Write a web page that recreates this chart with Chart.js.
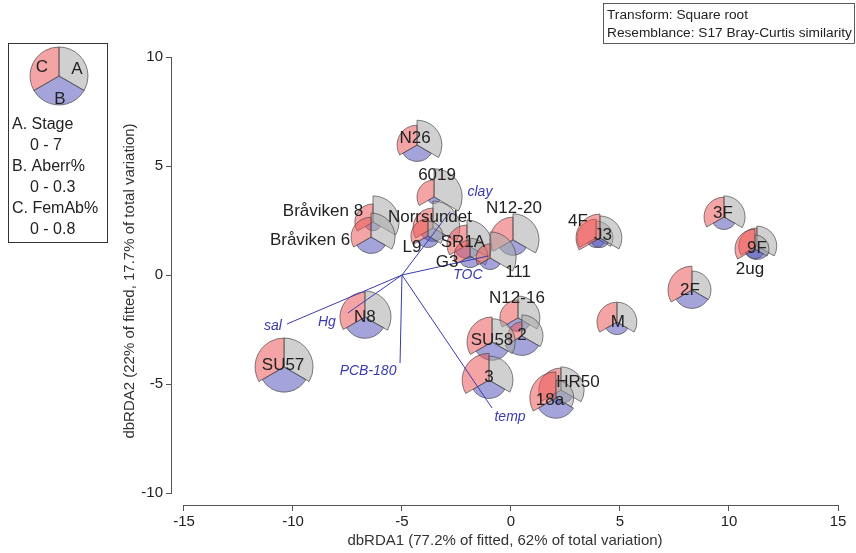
<!DOCTYPE html>
<html lang="en">
<head>
  <meta charset="UTF-8">
  <title>dbRDA segmented bubble plot</title>
  <script src="https://cdn.jsdelivr.net/npm/chart.js"></script>
  <style>
    body {
      margin: 0;
      background: #fff;
    }
    canvas {
      display: block;
    }
  </style>
</head>
<body>

  <canvas id="dbrda" width="856" height="553"></canvas>

  <script>
    // samples and their dbRDA coordinates
    const samples = ['N26', '6019', 'Bråviken 8', 'Bråviken 6', 'Norrsundet', 'L9', 'SR1A', 'G3',
      'N12-20', '111', '4F', 'J3', '3F', '9F', '2ug', '2F', 'M', 'N8', 'SU57', 'N12-16', '2',
      'SU58', '3', 'HR50', '18a'];
    const dbRDA1 = [-4.31, -3.53, -6.33, -6.42, -3.58, -3.81, -2.02, -1.88, 0.09, -0.96, 3.90, 4.08,
      9.77, 11.28, 11.19, 8.30, 4.86, -6.70, -10.41, 0.32, 0.50, -0.87, -1.01, 2.29, 2.06];
    const dbRDA2 = [5.96, 3.58, 2.43, 1.74, 2.16, 1.79, 1.38, 0.87, 1.61, 0.78, 1.70, 1.70,
      2.66, 1.33, 1.19, -0.69, -2.16, -1.93, -4.22, -1.97, -2.80, -3.07, -4.82, -5.28, -5.64];

    // bubble variables
    const stage = [6.0, 6.8, 6.3, 5.8, 6.5, 3.6, 6.0, 4.3, 6.3, 6.3, 4.1, 5.3, 5.1, 4.8, 3.4, 4.6,
      4.8, 6.3, 7.0, 5.3, 5.1, 5.6, 5.8, 5.6, 4.3];
    const aberr = [0.17, 0.07, 0.09, 0.17, 0.14, 0.12, 0.14, 0.12, 0.16, 0.12, 0.10, 0.10, 0.13,
      0.14, 0.10, 0.19, 0.13, 0.22, 0.26, 0.14, 0.20, 0.19, 0.19, 0.14, 0.21];
    const femAb = [0.55, 0.47, 0.50, 0.55, 0.55, 0.47, 0.55, 0.44, 0.63, 0.39, 0.52, 0.66, 0.55,
      0.50, 0.55, 0.66, 0.55, 0.69, 0.80, 0.50, 0.39, 0.69, 0.74, 0.61, 0.72];
    const stageMax = 7;
    const aberrMax = 0.3;
    const femAbMax = 0.8;

    // environmental vectors (from a common origin)
    const vecOrigin = [-5.0, 0.0];
    const vecNames = ['sal', 'Hg', 'PCB-180', 'temp', 'TOC', 'clay'];
    const vecX = [-10.28, -7.48, -5.09, -0.87, -1.06, -2.8];
    const vecY = [-2.25, -1.74, -4.04, -6.1, 0.87, 2.9];

    const xTicks = [-15, -10, -5, 0, 5, 10, 15];
    const yTicks = [-10, -5, 0, 5, 10];

    // label nudges in px (label centre minus bubble centre)
    const labelShift = {
      'N26': [-2, -7], '6019': [3, -22], 'Bråviken 8': [-50, -11], 'Bråviken 6': [-61, 3],
      'Norrsundet': [-3, -11], 'L9': [-16, 11], 'SR1A': [-4, -3], 'G3': [-23, 6],
      'N12-20': [1, -32], '111': [28, 14], '4F': [-18, -17], 'J3': [3, -3], '3F': [-1, -4],
      '9F': [0, 2], '2ug': [-5, 20], '2F': [-2, 0], 'M': [1, 0], 'N8': [0, 0], 'SU57': [-1, -2],
      'N12-16': [-1, -20], '2': [0, -1], 'SU58': [0, -2], '3': [0, -3], 'HR50': [17, -8], '18a': [-6, 2]
    };
    const vecLabelShift = [[-14, 2], [-21, 9], [-32, 8], [18, 9], [-20, 19], [30, -20]];

    const R = 29;
    const colA = 'rgba(170,170,170,0.55)';
    const colB = 'rgba(90,90,190,0.55)';
    const colC = 'rgba(235,90,90,0.55)';
    const vecCol = '#3a3aae';

    function wedge(ctx, cx, cy, r, a0, a1, fill) {
      if (r <= 0) return;
      ctx.beginPath();
      ctx.moveTo(cx, cy);
      ctx.arc(cx, cy, r, a0, a1);
      ctx.closePath();
      ctx.fillStyle = fill;
      ctx.fill();
      ctx.stroke();
    }

    function bubble(ctx, cx, cy, rA, rB, rC) {
      ctx.strokeStyle = 'rgba(70,70,70,0.85)';
      ctx.lineWidth = 0.8;
      wedge(ctx, cx, cy, rA, -Math.PI / 2, Math.PI / 6, colA);
      wedge(ctx, cx, cy, rB, Math.PI / 6, 5 * Math.PI / 6, colB);
      wedge(ctx, cx, cy, rC, 5 * Math.PI / 6, 3 * Math.PI / 2, colC);
    }

    const overlay = {
      id: 'overlay',
      afterDatasetsDraw(chart) {
        const ctx = chart.ctx;
        const xs = chart.scales.x, ys = chart.scales.y;
        ctx.save();

        // range-frame axis lines
        ctx.strokeStyle = '#555';
        ctx.lineWidth = 1;
        ctx.beginPath();
        ctx.moveTo(xs.getPixelForValue(xTicks[0]), chart.chartArea.bottom + 0.5);
        ctx.lineTo(xs.getPixelForValue(xTicks[xTicks.length - 1]), chart.chartArea.bottom + 0.5);
        ctx.moveTo(chart.chartArea.left - 0.5, ys.getPixelForValue(yTicks[0]));
        ctx.lineTo(chart.chartArea.left - 0.5, ys.getPixelForValue(yTicks[yTicks.length - 1]));
        ctx.stroke();

        // bubbles
        samples.forEach((s, i) => {
          const cx = xs.getPixelForValue(dbRDA1[i]);
          const cy = ys.getPixelForValue(dbRDA2[i]);
          bubble(ctx, cx, cy, R * stage[i] / stageMax, R * aberr[i] / aberrMax, R * femAb[i] / femAbMax);
        });

        // vectors
        const ox = xs.getPixelForValue(vecOrigin[0]);
        const oy = ys.getPixelForValue(vecOrigin[1]);
        ctx.strokeStyle = vecCol;
        ctx.lineWidth = 1;
        vecNames.forEach((v, i) => {
          ctx.beginPath();
          ctx.moveTo(ox, oy);
          ctx.lineTo(xs.getPixelForValue(vecX[i]), ys.getPixelForValue(vecY[i]));
          ctx.stroke();
        });
        ctx.fillStyle = vecCol;
        ctx.font = 'italic 14px "Liberation Sans", Arial, sans-serif';
        ctx.textAlign = 'center';
        ctx.textBaseline = 'middle';
        vecNames.forEach((v, i) => {
          ctx.fillText(v, xs.getPixelForValue(vecX[i]) + vecLabelShift[i][0],
            ys.getPixelForValue(vecY[i]) + vecLabelShift[i][1]);
        });

        // sample labels
        ctx.fillStyle = '#222';
        ctx.font = '17px "Liberation Sans", Arial, sans-serif';
        samples.forEach((s, i) => {
          const sh = labelShift[s] || [0, 0];
          ctx.fillText(s, xs.getPixelForValue(dbRDA1[i]) + sh[0], ys.getPixelForValue(dbRDA2[i]) + sh[1]);
        });

        // key box on the left
        ctx.strokeStyle = '#333';
        ctx.lineWidth = 1;
        ctx.strokeRect(8.5, 43.5, 99, 199);
        bubble(ctx, 59, 76, R, R, R);
        ctx.fillStyle = '#222';
        ctx.font = '17px "Liberation Sans", Arial, sans-serif';
        ctx.fillText('C', 42, 67);
        ctx.fillText('A', 77, 69);
        ctx.fillText('B', 60, 99);
        ctx.textAlign = 'left';
        ctx.font = '16px "Liberation Sans", Arial, sans-serif';
        const keyLines = [['A. Stage', 12], ['0 - ' + stageMax, 30], ['B. Aberr%', 12],
          ['0 - ' + aberrMax, 30], ['C. FemAb%', 12], ['0 - ' + femAbMax, 30]];
        keyLines.forEach((k, i) => ctx.fillText(k[0], k[1], 125 + i * 21));

        // transform box top right
        ctx.strokeStyle = '#333';
        ctx.strokeRect(603.5, 3.5, 251, 40);
        ctx.font = '13.7px "Liberation Sans", Arial, sans-serif';
        ctx.fillText('Transform: Square root', 607, 15);
        ctx.fillText('Resemblance: S17 Bray-Curtis similarity', 607, 33);

        ctx.restore();
      }
    };

    const ctx = document.getElementById('dbrda').getContext('2d');
    const chart = new Chart(ctx, {
      type: 'scatter',
      data: {
        datasets: [{
          data: samples.map((s, i) => ({ x: dbRDA1[i], y: dbRDA2[i] })),
          pointRadius: 0,
          pointHoverRadius: 0
        }]
      },
      options: {
        responsive: false,
        animation: false,
        devicePixelRatio: 1,
        layout: { padding: { left: 117, top: 57, right: 18, bottom: 0 } },
        plugins: {
          legend: { display: false },
          tooltip: { enabled: false }
        },
        scales: {
          x: {
            type: 'linear',
            min: -15.55,
            max: 15,
            afterBuildTicks: s => { s.ticks = xTicks.map(v => ({ value: v })); },
            afterFit: s => { s.height = 48; },
            border: { display: false },
            grid: { drawOnChartArea: false, drawTicks: true, tickLength: 6, color: '#555' },
            ticks: { color: '#222', font: { family: '"Liberation Sans", Arial', size: 15 }, padding: 2, maxRotation: 0 },
            title: {
              display: true,
              text: 'dbRDA1 (77.2% of fitted, 62% of total variation)',
              color: '#333',
              font: { family: '"Liberation Sans", Arial', size: 15 },
              padding: { top: 2, bottom: 3 }
            }
          },
          y: {
            type: 'linear',
            min: -10.55,
            max: 10,
            afterBuildTicks: s => { s.ticks = yTicks.map(v => ({ value: v })); },
            afterFit: s => { s.width = 55; },
            border: { display: false },
            grid: { drawOnChartArea: false, drawTicks: true, tickLength: 6, color: '#555' },
            ticks: { color: '#222', font: { family: '"Liberation Sans", Arial', size: 15 }, padding: 3 },
            title: {
              display: true,
              text: 'dbRDA2 (22% of fitted, 17.7% of total variation)',
              color: '#333',
              font: { family: '"Liberation Sans", Arial', size: 15 },
              padding: { top: 4, bottom: 4 }
            }
          }
        }
      },
      plugins: [overlay]
    });
  </script>

</body>
</html>
